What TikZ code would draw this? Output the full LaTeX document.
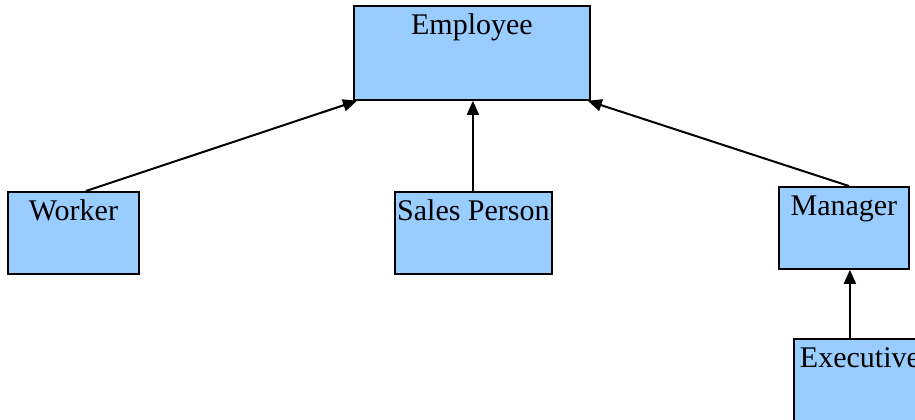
\documentclass[tikz,border=0pt]{standalone}
\usepackage{fontspec}
\setmainfont{Liberation Serif}
\usetikzlibrary{arrows.meta,calc}
\definecolor{boxfill}{HTML}{99CCFF}
\tikzset{
  classbox/.style={draw=black, line width=1.8pt, fill=boxfill, rectangle,
    inner sep=0pt, anchor=north west, text height=29pt,
    font=\fontsize{30pt}{32pt}\selectfont},
  inherit/.style={draw=black, line width=2pt,
    -{Triangle[length=14pt,width=12pt]}}
}
\begin{document}
\begin{tikzpicture}[x=1pt,y=-1pt]
\useasboundingbox (0,0) rectangle (915,420);
% class boxes (top-left corner, size)
\node[classbox, minimum width=236pt, text depth=65pt] (emp) at (353,5) {Employee};
\node[classbox, minimum width=131pt, text depth=53pt] (wrk) at (7,191) {Worker};
\node[classbox, minimum width=157pt, text depth=53pt] (sal) at (394,191) {Sales Person};
\node[classbox, minimum width=130pt, text depth=53pt] (mgr) at (778,186) {Manager};
\node[classbox, minimum width=132pt, text depth=53pt] (exe) at (793,338) {Executive};
% inheritance arrows
\draw[inherit] ([xshift=12.5pt]wrk.north) -- ([xshift=4pt]emp.south west);
\draw[inherit] ([xshift=-0.5pt]sal.north) -- ([xshift=-0.5pt]sal.north |- emp.south);
\draw[inherit] ([xshift=5pt]mgr.north) -- ([xshift=-3pt]emp.south east);
\draw[inherit] ([xshift=-10pt]exe.north) -- ([xshift=-10pt]exe.north |- mgr.south);
\end{tikzpicture}
\end{document}
